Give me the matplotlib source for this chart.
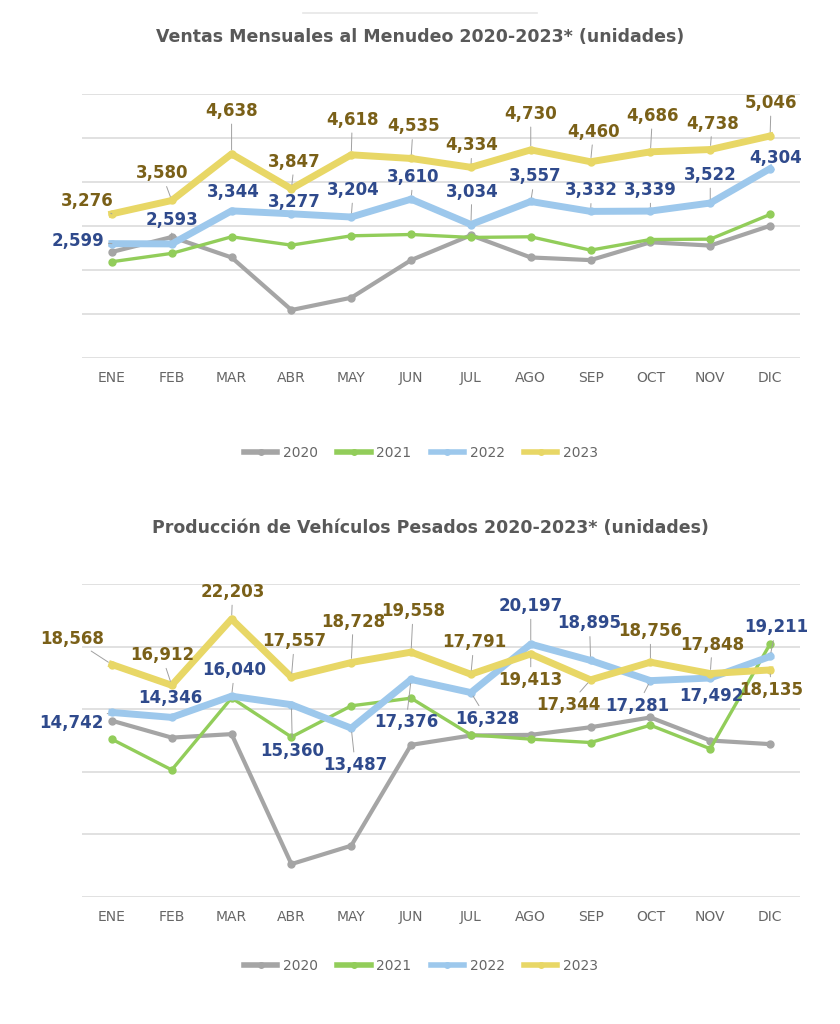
import matplotlib
matplotlib.use("Agg")
import matplotlib.pyplot as plt
from matplotlib.lines import Line2D
import math

months = ["ENE", "FEB", "MAR", "ABR", "MAY", "JUN", "JUL", "AGO", "SEP", "OCT", "NOV", "DIC"]
years = ["2020", "2021", "2022", "2023"]

# Ventas Mensuales al Menudeo
ventas_2020 = [2410, 2750, 2285, 1090, 1370, 2225, 2790, 2285, 2225, 2630, 2555, 3005]
ventas_2021 = [2188, 2378, 2755, 2565, 2777, 2807, 2740, 2755, 2451, 2693, 2701, 3263]
ventas_2022 = [2599, 2593, 3344, 3277, 3204, 3610, 3034, 3557, 3332, 3339, 3522, 4304]
ventas_2023 = [3276, 3580, 4638, 3847, 4618, 4535, 4334, 4730, 4460, 4686, 4738, 5046]

# Producción de Vehículos Pesados
prod_2020 = [14080, 12730, 13010, 2630, 4100, 12150, 12900, 12950, 13560, 14340, 12500, 12210]
prod_2021 = [12600, 10150, 15900, 12780, 15270, 15880, 12950, 12610, 12340, 13720, 11840, 20210]
prod_2022 = [14742, 14346, 16040, 15360, 13487, 17376, 16328, 20197, 18895, 17281, 17492, 19211]
prod_2023 = [18568, 16912, 22203, 17557, 18728, 19558, 17791, 19413, 17344, 18756, 17848, 18135]

# label offsets (pixels) relative to the data point
top_off_2023 = [(-25, 13), (-10, 27), (0, 43), (3, 27), (1, 35), (2, 32), (1, 22), (0, 36), (3, 30), (2, 36), (2, 26), (1, 33)]
top_off_2022 = [(-34, 3), (0, 24), (2, 19), (3, 12), (2, 27), (2, 22), (1, 33), (4, 25), (1, 21), (0, 21), (0, 28), (6, 11)]
bot_off_2023 = [(-40, 26), (-10, 30), (1, 27), (3, 36), (2, 41), (2, 41), (3, 32), (0, -26), (-22, -25), (0, 31), (2, 29), (1, -20)]
bot_off_2022 = [(-41, -11), (-1, 19), (3, 26), (1, -46), (4, -37), (-5, -43), (16, -26), (0, 38), (-1, 37), (-13, -25), (1, -18), (6, 29)]

C_GRAY = "#A5A5A5"
C_GREEN = "#92CD5A"
C_BLUE = "#9DC8EC"
C_YELLOW = "#E8D766"
C_LBL_Y = "#7A6018"
C_LBL_B = "#2F4A8C"
C_TXT = "#595959"

styles = [
    (C_GRAY, 3.0),
    (C_GREEN, 2.4),
    (C_BLUE, 5.0),
    (C_YELLOW, 5.0),
]

fig = plt.figure(figsize=(8.4, 10.24), dpi=100)
W, H = 840, 1024


def make_axes(top_px, bottom_px):
    return fig.add_axes([82 / W, 1 - bottom_px / H, 718 / W, (bottom_px - top_px) / H])


def draw(ax, series, ymax, step, off22, off23):
    x = list(range(len(months)))
    for (col, lw), ys in zip(styles, series):
        ax.plot(x, ys, color=col, lw=lw, marker="o", markersize=5,
                markerfacecolor=col, markeredgecolor=col, solid_joinstyle="round", zorder=3)
    ax.set_xlim(-0.5, 11.5)
    ax.set_ylim(0, ymax)
    ax.set_yticks([i * step for i in range(int(ymax / step) + 1)])
    ax.yaxis.grid(True, color="#D9D9D9", lw=1.1)
    ax.set_axisbelow(True)
    for s in ax.spines.values():
        s.set_visible(False)
    ax.tick_params(axis="y", length=0, labelleft=False)
    ax.set_xticks(x)
    ax.set_xticklabels(months)
    ax.tick_params(axis="x", length=0, pad=9.5, labelsize=10, labelcolor="#666666")
    for vals, offs, col in ((series[2], off22, C_LBL_B), (series[3], off23, C_LBL_Y)):
        for i, (v, (dx, dy)) in enumerate(zip(vals, offs)):
            dist = math.hypot(dx, dy)
            ap = None
            if dist > 20:
                ap = dict(arrowstyle="-", color="#A0A0A0", lw=0.7, shrinkA=1, shrinkB=3)
            ax.annotate(f"{v:,}", xy=(i, v), xytext=(dx, dy), textcoords="offset pixels",
                        ha="center", va="center", fontsize=12, fontweight="bold",
                        color=col, arrowprops=ap, annotation_clip=False, zorder=5)


ax1 = make_axes(94, 358)
draw(ax1, [ventas_2020, ventas_2021, ventas_2022, ventas_2023], 6000, 1000, top_off_2022, top_off_2023)
ax2 = make_axes(584, 897)
draw(ax2, [prod_2020, prod_2021, prod_2022, prod_2023], 25000, 5000, bot_off_2022, bot_off_2023)

fig.text(420 / W, 1 - 37 / H, "Ventas Mensuales al Menudeo 2020-2023* (unidades)",
         ha="center", va="center", fontsize=12.5, fontweight="bold", color=C_TXT)
fig.text(430 / W, 1 - 528 / H, "Producción de Vehículos Pesados 2020-2023* (unidades)",
         ha="center", va="center", fontsize=12.5, fontweight="bold", color=C_TXT)

# faint decorative rule at top
fig.add_artist(Line2D([303 / W, 537 / W], [1 - 13 / H, 1 - 13 / H], color="#E6E6E6", lw=1.2))

handles = [Line2D([0], [0], color=c, lw=4, marker="o", markersize=4, markerfacecolor=c, markeredgecolor=c)
           for c, _ in styles]
for ycen in (453, 966):
    fig.legend(handles, years, loc="center", bbox_to_anchor=(421 / W, 1 - ycen / H), ncol=4,
               frameon=False, fontsize=10, labelcolor="#666666", handlelength=2.4,
               handletextpad=0.4, columnspacing=1.4)

fig.savefig("out.png", dpi=100, facecolor="white")
